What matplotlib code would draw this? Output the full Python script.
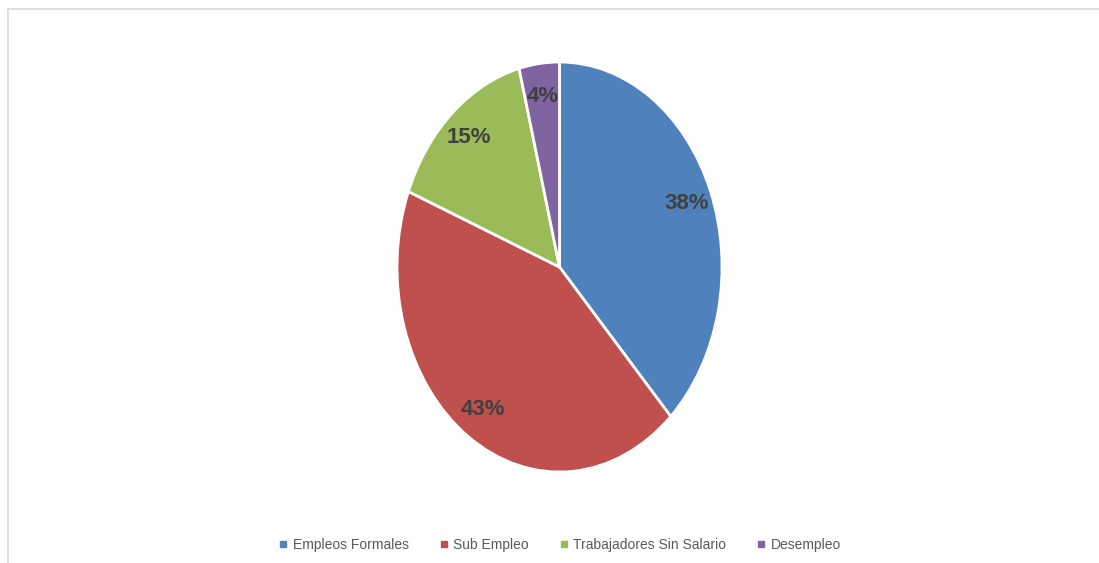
import matplotlib.pyplot as plt
from matplotlib.lines import Line2D

categories = ['Empleos Formales', 'Sub Empleo', 'Trabajadores Sin Salario', 'Desempleo']
values = [38, 43, 15, 4]
colors = ['#4F81BD', '#C0504D', '#9BBB59', '#8064A2']

W, H = 1099, 563
fig = plt.figure(figsize=(W / 100, H / 100), dpi=100)

# light frame, only top and left edges visible
fig.add_artist(Line2D([8 / W, 8 / W], [0, 1 - 9 / H], transform=fig.transFigure,
                      color='#D9D9D9', lw=1.2))
fig.add_artist(Line2D([8 / W, 1], [1 - 9 / H, 1 - 9 / H], transform=fig.transFigure,
                      color='#D9D9D9', lw=1.2))

ax = fig.add_axes([397 / W, (H - 472) / H, 325 / W, 410 / H])
wedges, texts, autotexts = ax.pie(
    values, colors=colors, startangle=90, counterclock=False,
    autopct='%1.0f%%', pctdistance=0.84,
    wedgeprops=dict(edgecolor='white', linewidth=2),
    textprops=dict(fontsize=16, fontweight='bold', color='#404040',
                   family='Liberation Sans'))
ax.set_aspect('auto')
ax.set_xlim(-1, 1)
ax.set_ylim(-1, 1)
ax.axis('off')

handles = [Line2D([], [], marker='s', linestyle='', markersize=5,
                  markerfacecolor=c, markeredgecolor=c) for c in colors]
leg = fig.legend(handles, categories, loc='center', bbox_to_anchor=(560 / W, 1 - 545 / H),
                 ncol=4, frameon=False, handlelength=0.6, handletextpad=0.4,
                 columnspacing=2.2, prop=dict(family='Liberation Sans', size=10))
for t in leg.get_texts():
    t.set_color('#595959')

fig.savefig('out.png', dpi=100)
